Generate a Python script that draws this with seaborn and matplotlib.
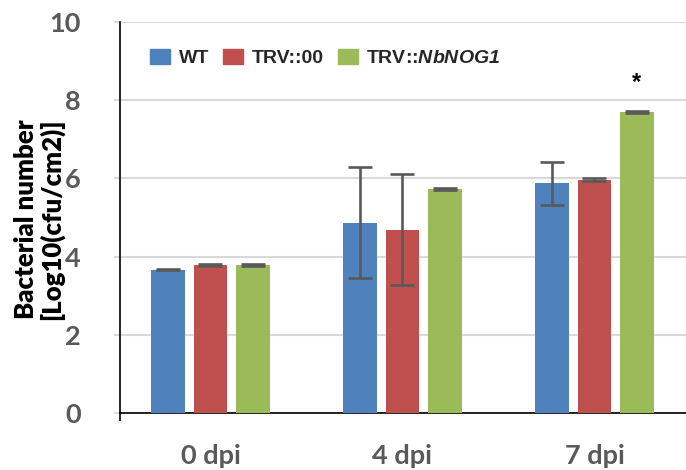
import matplotlib
matplotlib.use("Agg")
import matplotlib.pyplot as plt
import seaborn as sns
import pandas as pd

# Bacterial counts (log10 cfu/cm2) per time point and genotype
timepoints = ["0 dpi", "4 dpi", "7 dpi"]
genotypes = ["WT", "TRV::00", "TRV::NbNOG1"]
wt_mean = [3.67, 4.86, 5.87]
wt_err = [0.02, 1.42, 0.54]
trv00_mean = [3.78, 4.69, 5.97]
trv00_err = [0.02, 1.42, 0.03]
nog1_mean = [3.78, 5.73, 7.70]
nog1_err = [0.02, 0.02, 0.03]
significant = [(2, "TRV::NbNOG1")]  # (time point index, genotype) marked with *

palette = {"WT": "#4F81BD", "TRV::00": "#C0504D", "TRV::NbNOG1": "#9BBB59"}
legend_labels = {"WT": "WT", "TRV::00": "TRV::00",
                 "TRV::NbNOG1": "TRV::$\\mathit{NbNOG1}$"}

means = {"WT": wt_mean, "TRV::00": trv00_mean, "TRV::NbNOG1": nog1_mean}
errs = {"WT": wt_err, "TRV::00": trv00_err, "TRV::NbNOG1": nog1_err}

rows = []
for g in genotypes:
    for i, t in enumerate(timepoints):
        rows.append({"time": t, "genotype": g, "value": means[g][i], "err": errs[g][i]})
df = pd.DataFrame(rows)

sns.set_theme(style="white")
plt.rcParams["font.family"] = ["Lato", "DejaVu Sans"]
plt.rcParams["mathtext.fontset"] = "custom"
plt.rcParams["mathtext.it"] = "Liberation Sans:italic:bold"
plt.rcParams["mathtext.rm"] = "Liberation Sans:italic:bold"

fig = plt.figure(figsize=(6.86, 4.70), dpi=100)
ax = fig.add_axes([120 / 686, 57 / 470, 566 / 686, 391 / 470])

sns.barplot(data=df, x="time", y="value", hue="genotype", order=timepoints,
            hue_order=genotypes, palette=palette, saturation=1, errorbar=None,
            width=0.664, gap=0.216, linewidth=0, ax=ax, legend=False, zorder=3)

# error bars placed on the drawn bar centres
for container, g in zip(ax.containers, genotypes):
    xs = [p.get_x() + p.get_width() / 2 for p in container.patches]
    ax.errorbar(xs, means[g], yerr=errs[g], fmt="none", ecolor="#595959",
                elinewidth=1.9, capsize=8.5, capthick=1.9, zorder=4)
    for i, x in enumerate(xs):
        if (i, g) in significant:
            ax.text(x, means[g][i] + errs[g][i] + 0.72, "*", ha="center", va="center",
                    fontsize=17, fontweight="bold", color="black",
                    family="Liberation Sans")

ax.set_xlim(-0.471, 2.477)
ax.set_ylim(0, 10)
ax.set_yticks([0, 2, 4, 6, 8, 10])
ax.yaxis.grid(True, color="#D9D9D9", linewidth=1.5, zorder=0)
ax.set_axisbelow(True)

for side in ("top", "right"):
    ax.spines[side].set_visible(False)
for side in ("left", "bottom"):
    ax.spines[side].set_color("black")
    ax.spines[side].set_linewidth(1.2)

ax.tick_params(axis="y", which="major", length=4, width=1.5, color="#D9D9D9",
               pad=24, labelsize=19.5, labelcolor="#595959", left=True)
ax.tick_params(axis="x", which="major", length=0, pad=22, labelsize=19.5,
               labelcolor="#595959")
ax.set_xticks([-0.471], minor=True)
ax.tick_params(axis="x", which="minor", length=6, width=1.2, color="black", bottom=True)
for lab in ax.get_xticklabels() + ax.get_yticklabels():
    lab.set_fontweight("bold")

ax.set_xlabel("")
ax.set_ylabel("")
fig.text(39 / 686, 1 - 219 / 470, "Bacterial number\n[Log10(cfu/cm2)]",
         rotation=90, ha="center", va="center", fontsize=18.5, fontweight="heavy",
         color="black", linespacing=1.0)

handles = [plt.Rectangle((0, 0), 1, 1, color=palette[g]) for g in genotypes]
ax.legend(handles, [legend_labels[g] for g in genotypes], loc="center left",
          bbox_to_anchor=(150 / 686, 1 - 58 / 470), bbox_transform=fig.transFigure,
          ncol=3, frameon=False, borderpad=0, borderaxespad=0,
          handlelength=1.05, handleheight=0.85, handletextpad=0.42,
          columnspacing=0.72,
          prop={"family": "Liberation Sans", "weight": "bold", "size": 14})

fig.savefig("out.png", dpi=100)
